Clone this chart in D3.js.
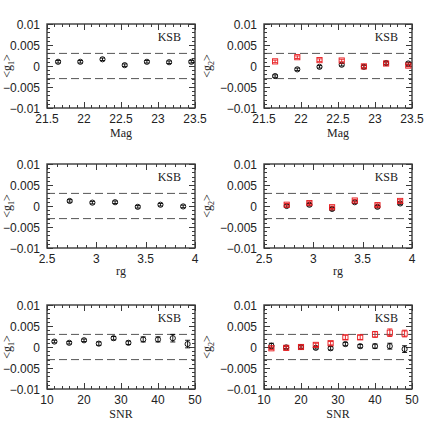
<!DOCTYPE html>
<html><head><meta charset="utf-8">
<script src="https://cdn.jsdelivr.net/npm/d3@7"></script>
<style>body{margin:0;background:#fff}svg{display:block}</style>
</head><body>
<script>
// ---- data ----
const magX = [21.65, 21.95, 22.25, 22.55, 22.85, 23.15, 23.45];
const magG1 = [0.0010, 0.0010, 0.0016, 0.0002, 0.0010, 0.0009, 0.0010];
const magG1Err = [0.0003, 0.0003, 0.0003, 0.0003, 0.0003, 0.0003, 0.0003];
const magG2Black = [-0.0024, -0.0008, -0.0002, 0.0003, -0.0002, 0.0007, 0.0006];
const magG2BlackErr = [0.0003, 0.0003, 0.0003, 0.0003, 0.0003, 0.0003, 0.0003];
const magG2Red = [0.0011, 0.0021, 0.0014, 0.0013, -0.0001, 0.0006, 0.0001];
const magG2RedErr = [0.0003, 0.0003, 0.0003, 0.0003, 0.0003, 0.0003, 0.0003];

const rgX = [2.73, 2.96, 3.19, 3.42, 3.65, 3.88];
const rgG1 = [0.0012, 0.0008, 0.0009, -0.0002, 0.0003, -0.0001];
const rgG1Err = [0.0003, 0.0003, 0.0003, 0.0003, 0.0003, 0.0003];
const rgG2Black = [0.0000, 0.0003, -0.0007, 0.0009, -0.0002, 0.0006];
const rgG2BlackErr = [0.0003, 0.0003, 0.0003, 0.0003, 0.0003, 0.0003];
const rgG2Red = [0.0003, 0.0007, -0.0003, 0.0013, 0.0002, 0.0012];
const rgG2RedErr = [0.0003, 0.0003, 0.0003, 0.0003, 0.0003, 0.0003];

const snrX = [12, 16, 20, 24, 28, 32, 36, 40, 44, 48];
const snrG1 = [0.0013, 0.0010, 0.0016, 0.0008, 0.0021, 0.0010, 0.0018, 0.0018, 0.0021, 0.0007];
const snrG1Err = [0.0003, 0.0003, 0.0003, 0.0004, 0.0004, 0.0004, 0.0006, 0.0006, 0.0009, 0.0009];
const snrG2Black = [0.0003, -0.0001, 0.0000, -0.0002, -0.0003, 0.0007, 0.0002, 0.0002, 0.0002, -0.0005];
const snrG2BlackErr = [0.0006, 0.0003, 0.0003, 0.0003, 0.0004, 0.0004, 0.0004, 0.0005, 0.0007, 0.0008];
const snrG2Red = [-0.0003, -0.0002, 0.0000, 0.0005, 0.0009, 0.0023, 0.0023, 0.0030, 0.0034, 0.0032];
const snrG2RedErr = [0.0003, 0.0003, 0.0003, 0.0004, 0.0004, 0.0005, 0.0005, 0.0007, 0.0009, 0.0008];

const yTicks = [-0.01, -0.005, 0, 0.005, 0.01];
const yTickLabels = ["\u22120.01", "\u22120.005", "0", "0.005", "0.01"];
const dashLevels = [0.003, -0.003];

const panelLabel = "KSB";

// ---- layout ----
const W = 436, H = 436;
const colLeft = [47, 264], pw = 148;
const rowTop = [24, 164, 305], ph = 84;

const svg = d3.select("body").append("svg").attr("width", W).attr("height", H);
const sans = "'Liberation Sans', Arial, sans-serif";
const serif = "'Liberation Serif', 'Times New Roman', serif";
const frameCol = "#3a3a3a";

const rowsSpec = [
  {title: "Mag", domain: [21.5, 23.5], major: [21.5, 22, 22.5, 23, 23.5], majorLab: ["21.5","22","22.5","23","23.5"], minorStep: 0.1,
   x: magX, g1: magG1, g1e: magG1Err, g2b: magG2Black, g2be: magG2BlackErr, g2r: magG2Red, g2re: magG2RedErr, ttl: 25},
  {title: "rg", domain: [2.5, 4], major: [2.5, 3, 3.5, 4], majorLab: ["2.5","3","3.5","4"], minorStep: 0.1,
   x: rgX, g1: rgG1, g1e: rgG1Err, g2b: rgG2Black, g2be: rgG2BlackErr, g2r: rgG2Red, g2re: rgG2RedErr, ttl: 23},
  {title: "SNR", domain: [10, 50], major: [10, 20, 30, 40, 50], majorLab: ["10","20","30","40","50"], minorStep: 2,
   x: snrX, g1: snrG1, g1e: snrG1Err, g2b: snrG2Black, g2be: snrG2BlackErr, g2r: snrG2Red, g2re: snrG2RedErr, ttl: 25}
];

function drawPanel(L, T, spec, ySeries, ylabSub, ylabX) {
  const g = svg.append("g");
  const x = d3.scaleLinear().domain(spec.domain).range([L, L + pw]);
  const y = d3.scaleLinear().domain([-0.01, 0.01]).range([T + ph, T]);

  // dashed reference lines
  g.selectAll("line.dash").data(dashLevels).join("line")
    .attr("x1", L).attr("x2", L + pw)
    .attr("y1", d => y(d)).attr("y2", d => y(d))
    .attr("stroke", "#555").attr("stroke-width", 1).attr("stroke-dasharray", "8,4");

  // minor/major ticks
  const [d0, d1] = spec.domain;
  const nMinor = Math.round((d1 - d0) / spec.minorStep);
  const xMinor = d3.range(nMinor + 1).map(i => d0 + i * spec.minorStep);
  const yMinor = d3.range(21).map(i => -0.01 + i * 0.001);
  const tk = g.append("g").attr("stroke", frameCol).attr("stroke-width", 1);
  xMinor.forEach(v => {
    const isMaj = spec.major.some(m => Math.abs(m - v) < 1e-6);
    const len = isMaj ? 6 : 3;
    const xx = Math.round(x(v)) + 0.5;
    tk.append("line").attr("x1", xx).attr("x2", xx).attr("y1", T + ph).attr("y2", T + ph - len);
    tk.append("line").attr("x1", xx).attr("x2", xx).attr("y1", T).attr("y2", T + len);
  });
  yMinor.forEach((v, i) => {
    const isMaj = i % 5 === 0;
    const len = isMaj ? 6 : 3;
    const yy = Math.round(y(v)) + 0.5;
    tk.append("line").attr("y1", yy).attr("y2", yy).attr("x1", L).attr("x2", L + len);
    tk.append("line").attr("y1", yy).attr("y2", yy).attr("x1", L + pw).attr("x2", L + pw - len);
  });

  // frame
  g.append("rect").attr("x", L).attr("y", T).attr("width", pw).attr("height", ph)
    .attr("fill", "none").attr("stroke", frameCol).attr("stroke-width", 1.4);

  // tick labels
  g.selectAll("text.xl").data(spec.major).join("text")
    .attr("x", d => x(d)).attr("y", T + ph + 15)
    .attr("text-anchor", "middle").attr("font-family", sans).attr("font-size", 12).attr("fill", "#222")
    .text((d, i) => spec.majorLab[i]);
  g.selectAll("text.yl").data(yTicks).join("text")
    .attr("x", L - 7).attr("y", d => y(d) + 4.5)
    .attr("text-anchor", "end").attr("font-family", sans).attr("font-size", 12).attr("fill", "#222")
    .text((d, i) => yTickLabels[i]);

  // axis titles
  g.append("text").attr("x", L + pw / 2).attr("y", T + ph + spec.ttl + 4)
    .attr("text-anchor", "middle").attr("font-family", serif).attr("font-size", 12).attr("fill", "#222")
    .text(spec.title);
  const yl = g.append("text").attr("transform", `translate(${ylabX},${T + ph / 2}) rotate(-90)`)
    .attr("text-anchor", "middle").attr("font-family", serif).attr("font-size", 12).attr("fill", "#222");
  yl.append("tspan").text("<g");
  yl.append("tspan").attr("font-size", 8).attr("dy", 3).text(ylabSub);
  yl.append("tspan").attr("dy", -3).text(">");

  // KSB
  g.append("text").attr("x", L + pw - 14).attr("y", T + 17)
    .attr("text-anchor", "end").attr("font-family", serif).attr("font-size", 12).attr("fill", "#222")
    .text(panelLabel);

  // series
  ySeries.forEach(s => {
    const pts = spec.x.map((xv, i) => ({x: xv, y: s.vals[i], e: s.errs[i]}));
    const sg = g.append("g").attr("stroke", s.color).attr("fill", "none").attr("stroke-width", 0.9);
    pts.forEach(p => {
      const cx = x(p.x), cy = y(p.y), top = y(p.y + p.e), bot = y(p.y - p.e);
      sg.append("line").attr("x1", cx).attr("x2", cx).attr("y1", top).attr("y2", bot);
      sg.append("line").attr("x1", cx - 2.5).attr("x2", cx + 2.5).attr("y1", top).attr("y2", top);
      sg.append("line").attr("x1", cx - 2.5).attr("x2", cx + 2.5).attr("y1", bot).attr("y2", bot);
      if (s.shape === "square") {
        sg.append("rect").attr("x", cx - 2.6).attr("y", cy - 2.6).attr("width", 5.2).attr("height", 5.2);
      } else {
        sg.append("circle").attr("cx", cx).attr("cy", cy).attr("r", 2.6);
      }
    });
  });
}

rowsSpec.forEach((spec, r) => {
  drawPanel(colLeft[0], rowTop[r], spec,
    [{vals: spec.g1, errs: spec.g1e, color: "#000", shape: "circle"}], "1", 11);
  drawPanel(colLeft[1], rowTop[r], spec,
    [{vals: spec.g2b, errs: spec.g2be, color: "#000", shape: "circle"},
     {vals: spec.g2r, errs: spec.g2re, color: "#e8181c", shape: "square"}], "2", 211);
});
</script>
</body></html>
